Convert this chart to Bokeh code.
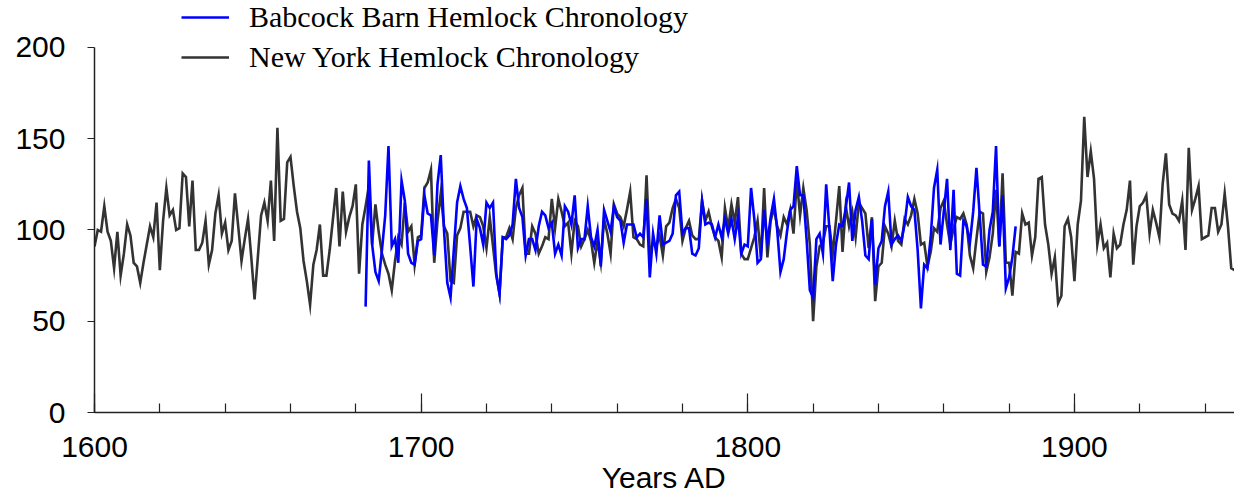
from bokeh.plotting import figure
from bokeh.models import Range1d, SingleIntervalTicker, FixedTicker, Legend, LegendItem
from bokeh.embed import file_html
from bokeh.resources import INLINE

# ---------------- data ----------------
ny_start = 1600
ny_values = [
    91, 100, 99, 113, 99, 94, 79, 99, 75, 87,
    103, 97, 82, 80, 71, 82, 92, 102, 96, 115,
    78, 105, 123, 108, 111, 100, 101, 131, 129, 102,
    127, 89, 89, 93, 105, 81, 89, 109, 119, 98,
    104, 89, 94, 120, 102, 83, 95, 106, 85, 62,
    85, 108, 115, 105, 127, 94, 156, 105, 106, 137,
    140, 124, 110, 101, 83, 72, 59, 81, 89, 103,
    75, 75, 89, 106, 123, 91, 121, 99, 107, 113,
    125, 76, 103, 113, 124, 92, 114, 99, 87, 81,
    76, 67, 83, 96, 92, 115, 99, 102, 81, 96,
    97, 123, 126, 133, 82, 105, 120, 102, 98, 72,
    71, 97, 101, 110, 110, 110, 102, 108, 107, 102,
    90, 107, 91, 75, 65, 96, 96, 101, 95, 112,
    119, 123, 87, 87, 102, 98, 87, 91, 96, 95,
    117, 101, 117, 110, 102, 104, 87, 105, 102, 91,
    95, 100, 94, 82, 94, 82, 106, 98, 87, 114,
    109, 107, 102, 111, 121, 96, 95, 92, 91, 130,
    87, 93, 91, 97, 86, 102, 104, 112, 117, 112,
    94, 101, 105, 97, 95, 95, 116, 105, 110, 102,
    96, 94, 85, 112, 101, 114, 104, 118, 87, 84,
    84, 90, 96, 105, 85, 123, 85, 105, 112, 102,
    97, 107, 103, 111, 98, 127, 108, 123, 111, 92,
    50, 80, 91, 93, 102, 102, 87, 105, 124, 88,
    113, 102, 110, 96, 115, 112, 109, 90, 107, 61,
    80, 82, 102, 98, 91, 105, 94, 92, 106, 103,
    108, 117, 109, 92, 93, 80, 88, 101, 99, 112,
    116, 103, 92, 101, 107, 106, 109, 103, 86, 79,
    95, 110, 109, 77, 85, 98, 122, 91, 131, 82,
    82, 64, 88, 87, 109, 103, 104, 86, 96, 128,
    129, 103, 92, 76, 85, 60, 64, 102, 106, 96,
    72, 103, 116, 162, 129, 143, 128, 92, 103, 90,
    93, 74, 98, 90, 92, 103, 111, 127, 81, 102,
    113, 115, 119, 98, 111, 104, 96, 125, 142, 114,
    109, 108, 105, 116, 89, 145, 111, 117, 124, 95,
    96, 97, 112, 112, 99, 103, 120, 102, 79, 78,
]
ny_years = [ny_start + i for i in range(len(ny_values))]

bb_start = 1683
bb_values = [
    58, 138, 92, 77, 72, 89, 108,
    146, 91, 95, 82, 127, 116, 87, 82, 81, 94,
    95, 119, 109, 108, 86, 125, 141, 100, 71, 63,
    89, 115, 124, 117, 112, 91, 69, 106, 101, 92,
    115, 112, 115, 76, 65, 96, 95, 97, 103, 128,
    112, 107, 86, 95, 95, 89, 102, 110, 108, 101,
    104, 87, 92, 86, 113, 110, 103, 119, 90, 95,
    95, 113, 96, 91, 100, 80, 111, 105, 99, 113,
    107, 105, 93, 103, 103, 103, 96, 98, 96, 117,
    74, 98, 87, 108, 92, 93, 94, 98, 119, 121,
    98, 101, 101, 87, 86, 90, 116, 103, 104, 103,
    96, 103, 96, 106, 98, 106, 95, 107, 87, 92,
    91, 123, 106, 82, 84, 111, 93, 107, 117, 100,
    77, 84, 99, 111, 113, 135, 119, 119, 95, 67,
    63, 95, 98, 87, 125, 100, 72, 92, 103, 102,
    112, 126, 94, 111, 118, 105, 86, 84, 106, 70,
    90, 94, 113, 121, 92, 95, 97, 94, 103, 118,
    113, 111, 89, 57, 81, 79, 96, 123, 133, 92,
    110, 128, 89, 122, 76, 75, 105, 102, 93, 110,
    134, 108, 81, 80, 100, 110, 146, 91, 119, 68,
    74, 85, 102,
]
bb_years = [bb_start + i for i in range(len(bb_values))]

y_ticks = [0, 50, 100, 150, 200]
x_label = "Years AD"
bb_label = "Babcock Barn Hemlock Chronology"
ny_label = "New York Hemlock Chronology"

# ---------------- figure ----------------
SANS = "Liberation Sans"
SERIF = "Liberation Serif"

p = figure(width=1234, height=496, output_backend="svg", toolbar_location=None,
           x_range=Range1d(1600, 1949.0), y_range=Range1d(0, 225.7),
           min_border_left=94, min_border_right=0, min_border_top=0,
           min_border_bottom=84)
p.outline_line_color = None
p.xgrid.visible = False
p.ygrid.visible = False
p.background_fill_color = "white"

ny = p.line(ny_years, ny_values, line_color="#333333", line_width=2.6, line_join="miter")
bb = p.line(bb_years, bb_values, line_color="#0000ff", line_width=2.6, line_join="miter")

xa = p.xaxis[0]
xa.ticker = SingleIntervalTicker(interval=100, num_minor_ticks=5)
xa.major_tick_in = 19
xa.major_tick_out = 0
xa.minor_tick_in = 9
xa.minor_tick_out = 0
xa.axis_line_width = 1.5
xa.axis_line_color = "#222222"
xa.major_tick_line_color = "#222222"
xa.minor_tick_line_color = "#222222"
xa.major_tick_line_width = 1.2
xa.minor_tick_line_width = 1.2
xa.major_label_text_font = SANS
xa.major_label_text_font_size = "30px"
xa.major_label_text_color = "black"
xa.major_label_standoff = 24
xa.axis_label = x_label
xa.axis_label_text_font = SANS
xa.axis_label_text_font_size = "30px"
xa.axis_label_text_font_style = "normal"
xa.axis_label_text_color = "black"
xa.axis_label_standoff = 1

ya = p.yaxis[0]
ya.ticker = FixedTicker(ticks=y_ticks)
ya.bounds = (0, 200)
ya.major_tick_in = 0
ya.major_tick_out = 7
ya.minor_tick_line_color = None
ya.axis_line_width = 1.5
ya.axis_line_color = "#222222"
ya.major_tick_line_color = "#222222"
ya.major_tick_line_width = 1.2
ya.major_label_text_font = SANS
ya.major_label_text_font_size = "30px"
ya.major_label_text_color = "black"
ya.major_label_standoff = 22

legend = Legend(items=[LegendItem(label=bb_label, renderers=[bb]),
                       LegendItem(label=ny_label, renderers=[ny])],
                location=(87, 338), orientation="vertical",
                padding=0, margin=0, spacing=6,
                glyph_width=48, glyph_height=30, label_height=30,
                label_standoff=20,
                label_text_font=SERIF, label_text_font_size="30px",
                label_text_color="black",
                border_line_color=None, background_fill_alpha=0)
p.add_layout(legend)

open("out.html", "w").write(file_html(p, INLINE))
